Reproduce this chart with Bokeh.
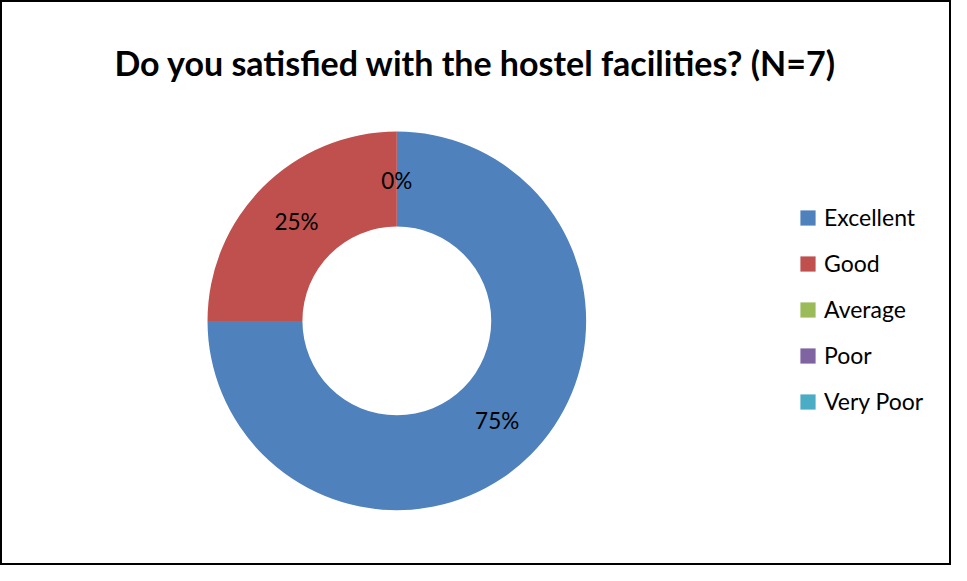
import numpy as np
from bokeh.plotting import figure
from bokeh.models import ColumnDataSource, Range1d, Legend, LegendItem
from bokeh.core.properties import value
from bokeh.embed import file_html
from bokeh.resources import INLINE

# ---- data ----
categories = ["Excellent", "Good", "Average", "Poor", "Very Poor"]
percents = [75, 25, 0, 0, 0]
colors = ["#4F81BD", "#C0504D", "#9BBB59", "#8064A2", "#4BACC6"]
title_text = "Do you satisfied with the hostel facilities? (N=7)"

# ---- layout ----
W, H = 951, 565          # canvas pixels
RW, RH = 967, 581        # data coordinate frame
FONT = "Lato"
cx, cy = 403, RH - 329.5
r_out, r_in = 192.5, 96

vals = np.array(percents, dtype=float)
frac = vals / vals.sum()
cum = np.concatenate([[0.0], np.cumsum(frac)])
start = np.pi / 2 - cum[:-1] * 2 * np.pi
end = np.pi / 2 - cum[1:] * 2 * np.pi
mid = (start + end) / 2
r_mid = (r_out + r_in) / 2
nz = vals > 0
outer = np.where(nz, r_out, 0.0)
inner = np.where(nz, r_in, 0.0)

src = ColumnDataSource(dict(cat=categories, start=start, end=end, color=colors,
                            outer=outer, inner=inner))

p = figure(width=W, height=H, output_backend="svg", toolbar_location=None,
           x_range=Range1d(0, RW), y_range=Range1d(0, RH),
           min_border=0, tools="")
p.axis.visible = False
p.grid.visible = False
p.outline_line_color = "#000000"
p.outline_line_width = 3
p.background_fill_color = "white"

r = p.annular_wedge(x=cx, y=cy, inner_radius="inner", outer_radius="outer",
                    start_angle="start", end_angle="end", direction="clock",
                    fill_color="color", line_color=None, source=src)

# data labels (zero-valued categories share one position)
lab_x, lab_y, lab_t = [], [], []
zero_done = False
for v, m in zip(percents, mid):
    if v == 0:
        if zero_done:
            continue
        zero_done = True
    lab_x.append(cx + r_mid * np.cos(m))
    lab_y.append(cy + r_mid * np.sin(m))
    lab_t.append(f"{v}%")
p.text(x=lab_x, y=lab_y, text=lab_t, text_font=value(FONT), text_font_size="22.5px",
       text_color="black", text_align="center", text_baseline="middle")

# title
p.text(x=[483], y=[RH - 64], text=[title_text], text_font=value(FONT),
       text_font_size="34px", text_font_style="bold", text_color="black",
       text_align="center", text_baseline="alphabetic")

items = [LegendItem(label=c, renderers=[r], index=i) for i, c in enumerate(categories)]
leg = Legend(items=items, location=(798, 150), orientation="vertical",
             glyph_width=19, glyph_height=19, label_height=28, spacing=18,
             label_standoff=7, padding=0, margin=0,
             label_text_font=FONT, label_text_font_size="23px",
             label_text_color="black", border_line_color=None,
             background_fill_alpha=0)
p.add_layout(leg, "center")

open("out.html", "w").write(file_html(p, INLINE))
